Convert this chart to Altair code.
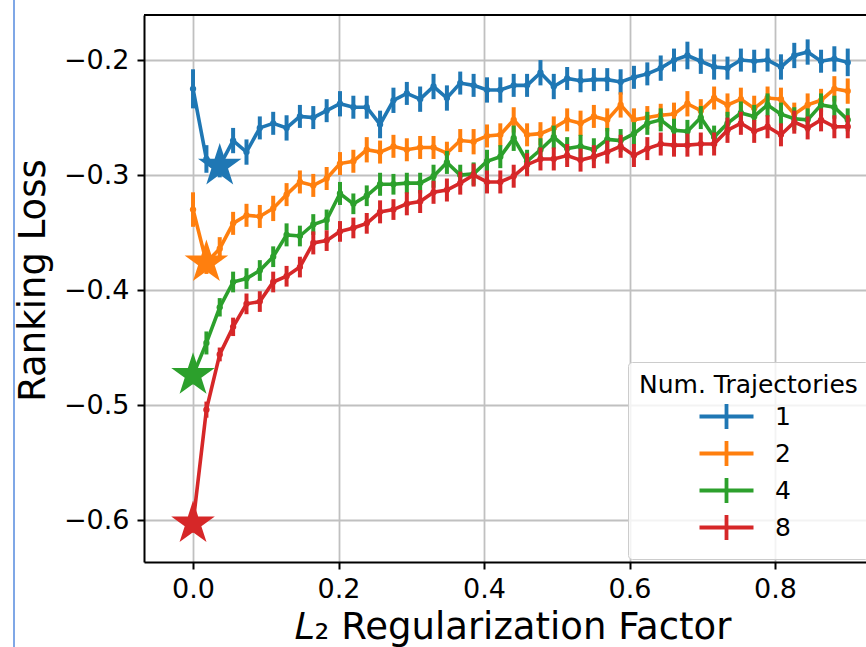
import altair as alt
import pandas as pd

# L2 regularization factors of the sweep
reg = [0.0, 0.0184, 0.0367, 0.0551, 0.0735, 0.0918, 0.1102, 0.1286, 0.1469, 0.1653,
       0.1837, 0.2020, 0.2204, 0.2388, 0.2571, 0.2755, 0.2939, 0.3122, 0.3306, 0.3490,
       0.3673, 0.3857, 0.4041, 0.4224, 0.4408, 0.4592, 0.4776, 0.4959, 0.5143, 0.5327,
       0.5510, 0.5694, 0.5878, 0.6061, 0.6245, 0.6429, 0.6612, 0.6796, 0.6980, 0.7163,
       0.7347, 0.7531, 0.7714, 0.7898, 0.8082, 0.8265, 0.8449, 0.8633, 0.8816, 0.9000]

# mean ranking loss per number of trajectories
loss_1 = [-0.225, -0.286, -0.292, -0.270, -0.280, -0.259, -0.255, -0.259, -0.249, -0.250,
          -0.244, -0.238, -0.241, -0.241, -0.256, -0.235, -0.229, -0.234, -0.223, -0.233,
          -0.220, -0.222, -0.226, -0.226, -0.222, -0.222, -0.211, -0.223, -0.216, -0.218,
          -0.217, -0.217, -0.219, -0.215, -0.212, -0.207, -0.200, -0.196, -0.201, -0.206,
          -0.207, -0.200, -0.201, -0.200, -0.206, -0.196, -0.193, -0.201, -0.199, -0.202]
loss_2 = [-0.330, -0.376, -0.364, -0.342, -0.335, -0.336, -0.329, -0.317, -0.306, -0.309,
          -0.303, -0.290, -0.288, -0.278, -0.280, -0.275, -0.278, -0.276, -0.276, -0.281,
          -0.270, -0.271, -0.266, -0.265, -0.252, -0.265, -0.264, -0.259, -0.252, -0.255,
          -0.249, -0.252, -0.239, -0.252, -0.250, -0.248, -0.247, -0.238, -0.244, -0.233,
          -0.239, -0.234, -0.242, -0.233, -0.234, -0.247, -0.239, -0.235, -0.225, -0.227]
loss_4 = [-0.474, -0.446, -0.415, -0.393, -0.390, -0.383, -0.371, -0.352, -0.353, -0.343,
          -0.339, -0.316, -0.325, -0.318, -0.308, -0.308, -0.307, -0.307, -0.301, -0.289,
          -0.300, -0.299, -0.288, -0.284, -0.268, -0.288, -0.278, -0.267, -0.277, -0.275,
          -0.278, -0.269, -0.270, -0.264, -0.255, -0.252, -0.261, -0.262, -0.250, -0.267,
          -0.255, -0.246, -0.249, -0.239, -0.247, -0.251, -0.252, -0.239, -0.241, -0.252]
loss_8 = [-0.603, -0.504, -0.456, -0.432, -0.412, -0.410, -0.393, -0.388, -0.380, -0.359,
          -0.357, -0.349, -0.346, -0.342, -0.332, -0.330, -0.325, -0.323, -0.315, -0.313,
          -0.307, -0.300, -0.306, -0.306, -0.301, -0.291, -0.286, -0.286, -0.283, -0.287,
          -0.284, -0.280, -0.275, -0.283, -0.277, -0.273, -0.274, -0.274, -0.273, -0.273,
          -0.261, -0.255, -0.262, -0.258, -0.265, -0.254, -0.259, -0.252, -0.258, -0.258]

# half-widths of the error bars
err_1 = [0.017, 0.012, 0.010, 0.011, 0.011, 0.010, 0.010, 0.011, 0.010, 0.010,
         0.010, 0.011, 0.010, 0.010, 0.012, 0.011, 0.010, 0.011, 0.011, 0.011,
         0.010, 0.010, 0.011, 0.011, 0.010, 0.010, 0.011, 0.011, 0.010, 0.010,
         0.010, 0.010, 0.011, 0.010, 0.010, 0.011, 0.010, 0.012, 0.011, 0.011,
         0.010, 0.010, 0.010, 0.010, 0.011, 0.011, 0.011, 0.010, 0.011, 0.012]
err_2 = [0.015, 0.010, 0.010, 0.010, 0.010, 0.010, 0.011, 0.010, 0.010, 0.010,
         0.010, 0.010, 0.010, 0.011, 0.010, 0.010, 0.010, 0.010, 0.010, 0.010,
         0.010, 0.011, 0.010, 0.010, 0.011, 0.010, 0.010, 0.010, 0.010, 0.011,
         0.010, 0.010, 0.011, 0.010, 0.010, 0.010, 0.010, 0.011, 0.010, 0.010,
         0.010, 0.010, 0.011, 0.010, 0.010, 0.010, 0.010, 0.010, 0.011, 0.011]
err_4 = [0.008, 0.010, 0.008, 0.009, 0.009, 0.009, 0.009, 0.010, 0.009, 0.009,
         0.009, 0.010, 0.009, 0.009, 0.010, 0.009, 0.009, 0.009, 0.010, 0.010,
         0.009, 0.010, 0.010, 0.010, 0.011, 0.010, 0.010, 0.010, 0.010, 0.010,
         0.010, 0.010, 0.010, 0.010, 0.010, 0.010, 0.010, 0.010, 0.010, 0.010,
         0.010, 0.010, 0.010, 0.010, 0.010, 0.010, 0.010, 0.010, 0.010, 0.010]
err_8 = [0.008, 0.007, 0.006, 0.008, 0.009, 0.009, 0.009, 0.009, 0.009, 0.010,
         0.009, 0.009, 0.009, 0.009, 0.010, 0.009, 0.010, 0.010, 0.010, 0.010,
         0.010, 0.010, 0.010, 0.010, 0.010, 0.010, 0.010, 0.010, 0.010, 0.010,
         0.010, 0.010, 0.010, 0.010, 0.010, 0.010, 0.010, 0.010, 0.010, 0.010,
         0.011, 0.010, 0.010, 0.010, 0.010, 0.010, 0.010, 0.010, 0.010, 0.010]

traj_names = ["1", "2", "4", "8"]
palette = ["#1f77b4", "#ff7f0e", "#2ca02c", "#d62728"]

rows = []
for name, ys, es in zip(traj_names, [loss_1, loss_2, loss_4, loss_8],
                        [err_1, err_2, err_4, err_8]):
    for xv, yv, ev in zip(reg, ys, es):
        rows.append({"reg": xv, "loss": yv, "lo": yv - ev, "hi": yv + ev, "traj": name})
df = pd.DataFrame(rows)

# best (lowest) loss of every curve, marked with a star
best = df.loc[df.groupby("traj")["loss"].idxmin()].reset_index(drop=True)

FONT = "DejaVu Sans"
STAR = ("M0,-1L0.2245,-0.309L0.951,-0.309L0.363,0.118L0.588,0.809L0,0.382"
        "L-0.588,0.809L-0.363,0.118L-0.951,-0.309L-0.2245,-0.309Z")
PLUS = "M-2.7,0L2.7,0M0,-1.25L0,1.25"

x_axis = alt.Axis(values=[0, 0.2, 0.4, 0.6, 0.8], format=".1f",
                  title="𝐿₂ Regularization Factor",
                  labelFont=FONT, titleFont=FONT, labelFontSize=27, titleFontSize=37,
                  titleFontWeight="normal", labelColor="black", titleColor="black",
                  tickSize=7, tickWidth=2, tickColor="black", labelPadding=7,
                  domainColor="black", domainWidth=2,
                  gridColor="#c0c0c0", gridWidth=1.8,
                  titleX=368, titleY=76, titleBaseline="alphabetic", titleAlign="center")
y_axis = alt.Axis(values=[-0.6, -0.5, -0.4, -0.3, -0.2], format=".1f",
                  title="Ranking Loss",
                  labelFont=FONT, titleFont=FONT, labelFontSize=27, titleFontSize=37,
                  titleFontWeight="normal", labelColor="black", titleColor="black",
                  tickSize=7, tickWidth=2, tickColor="black", labelPadding=8,
                  domainColor="black", domainWidth=2,
                  gridColor="#c0c0c0", gridWidth=1.8,
                  titleX=-100, titleY=265, titleAngle=270,
                  titleBaseline="alphabetic", titleAlign="center")

x_scale = alt.Scale(domain=[-0.0674, 0.9251], nice=False, zero=False)
y_scale = alt.Scale(domain=[-0.6365, -0.1608], nice=False, zero=False)

legend = alt.Legend(title="Num. Trajectories", orient="none", legendX=484, legendY=347,
                    symbolType=PLUS, symbolSize=400, symbolStrokeWidth=3.8,
                    symbolFillColor="transparent", symbolOffset=75, labelOffset=36,
                    titleFont=FONT, labelFont=FONT, titleFontSize=25, labelFontSize=25,
                    titleFontWeight="normal", titleColor="black", labelColor="black",
                    titleLimit=400, labelLimit=200,
                    fillColor="rgba(255,255,255,0.8)", strokeColor="#cccccc",
                    cornerRadius=4, padding=11, titlePadding=6, rowPadding=-4)


def color(with_legend):
    return alt.Color("traj:N", scale=alt.Scale(domain=traj_names, range=palette),
                     legend=legend if with_legend else None)


X = alt.X("reg:Q", scale=x_scale, axis=x_axis)
Y = alt.Y("loss:Q", scale=y_scale, axis=y_axis)

layers = []
for k, name in enumerate(traj_names):
    base = alt.Chart(df).transform_filter(alt.datum.traj == name)
    bars = base.mark_rule(strokeWidth=4).encode(
        x=X, y=alt.Y("lo:Q", scale=y_scale, axis=y_axis), y2="hi:Q",
        color=color(k == 0))
    line = base.mark_line(strokeWidth=3.6).encode(x=X, y=Y, color=color(False))
    dots = base.mark_circle(size=40, opacity=1).encode(x=X, y=Y, color=color(False))
    layers += [bars, line, dots]

stars = alt.Chart(best).mark_point(shape=STAR, size=2100, filled=True, opacity=1).encode(
    x=X, y=Y, color=color(False))

# upper frame line of the axes box
top_frame = alt.Chart(best).mark_rule(color="black", strokeWidth=2).encode(
    y=alt.value(0))

# thin vertical page rule on the far left
page_rule = alt.Chart(best).mark_rule(color="#7fa7e6", strokeWidth=1.5).encode(
    x=alt.value(-130), y=alt.value(-15), y2=alt.value(632))

chart = alt.layer(*layers, stars, top_frame, page_rule).properties(
    width=722, height=547,
    autosize=alt.AutoSizeParams(type="none"),
    padding={"left": 144, "top": 15, "right": 0, "bottom": 85},
    background="white",
).configure_view(stroke=None)

chart.save("out.html", embed_options={"renderer": "svg", "actions": False})
